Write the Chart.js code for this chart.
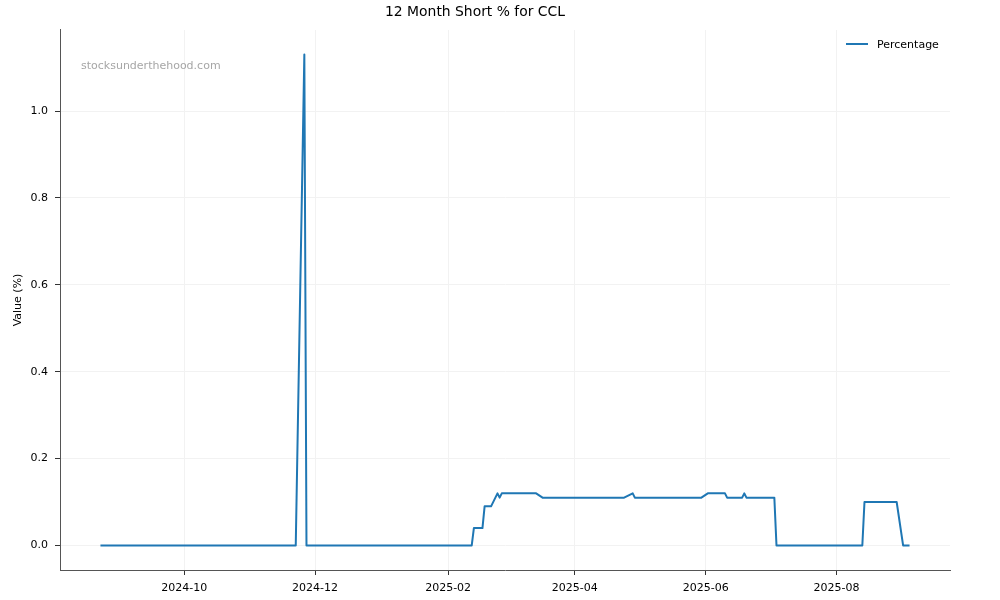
<!DOCTYPE html>
<html>
<head>
<meta charset="utf-8">
<script src="https://cdn.jsdelivr.net/npm/chart.js@4.4.1/dist/chart.umd.min.js"></script>
<style>
  html, body { margin: 0; padding: 0; background: #ffffff; }
  #wrap { width: 1000px; height: 600px; }
</style>
</head>
<body>
<div id="wrap"><canvas id="c" width="1000" height="600"></canvas></div>
<script>
// ---- data ----
const dates = ['2024-08-23','2024-11-22','2024-11-26','2024-11-27','2025-02-12','2025-02-13','2025-02-17','2025-02-18','2025-02-21','2025-02-24','2025-02-25','2025-02-26','2025-03-14','2025-03-17','2025-04-24','2025-04-28','2025-04-29','2025-05-30','2025-06-02','2025-06-10','2025-06-11','2025-06-18','2025-06-19','2025-06-20','2025-07-03','2025-07-04','2025-08-13','2025-08-14','2025-08-29','2025-09-01','2025-09-04'];
const values = [0,0,1.13,0,0,0.04,0.04,0.09,0.09,0.12,0.11,0.12,0.12,0.11,0.11,0.12,0.11,0.11,0.12,0.12,0.11,0.11,0.12,0.11,0.11,0,0,0.10,0.10,0,0];
const xTickLabels = ['2024-10','2024-12','2025-02','2025-04','2025-06','2025-08'];
const yTickValues = [0, 0.2, 0.4, 0.6, 0.8, 1.0];
const seriesName = 'Percentage';
const chartTitle = '12 Month Short % for CCL';
const yAxisTitle = 'Value (%)';
const watermark = 'stocksunderthehood.com';

// ---- helpers ----
const DAY = 86400000;
const toDay = s => Date.parse(s + 'T00:00:00Z') / DAY;
const points = dates.map((d, i) => ({ x: toDay(d), y: values[i] }));
const xTickDays = xTickLabels.map(l => toDay(l + '-01'));
const xFirst = points[0].x, xLast = points[points.length - 1].x;
const xPad = (xLast - xFirst) * 0.05;
const yMaxV = Math.max(...values), yMinV = Math.min(...values);
const yPad = (yMaxV - yMinV) * 0.05;

const FONT = 'DejaVu Sans';
const LINE_COLOR = '#1f77b4';

const overlay = {
  id: 'overlay',
  afterDraw(chart) {
    const ctx = chart.ctx;
    const ca = chart.chartArea;
    ctx.save();
    // watermark
    ctx.font = '11px "' + FONT + '"';
    ctx.fillStyle = '#a6a6a6';
    ctx.textAlign = 'left';
    ctx.textBaseline = 'middle';
    ctx.fillText(watermark, ca.left + 21, 66);
    // legend
    ctx.strokeStyle = LINE_COLOR;
    ctx.lineWidth = 2;
    ctx.beginPath();
    ctx.moveTo(846, 44);
    ctx.lineTo(868, 44);
    ctx.stroke();
    ctx.fillStyle = '#000000';
    ctx.fillText(seriesName, 877, 45);
    ctx.restore();
  }
};

new Chart(document.getElementById('c'), {
  type: 'line',
  data: {
    datasets: [{
      label: seriesName,
      data: points,
      borderColor: LINE_COLOR,
      backgroundColor: LINE_COLOR,
      borderWidth: 2,
      pointRadius: 0,
      tension: 0,
      fill: false,
      borderJoinStyle: 'round'
    }]
  },
  options: {
    responsive: false,
    animation: false,
    devicePixelRatio: 1,
    layout: { padding: { left: 0, right: 50, top: 0, bottom: 0 } },
    plugins: {
      legend: { display: false },
      tooltip: { enabled: false },
      title: {
        display: true,
        text: chartTitle,
        color: '#000000',
        font: { family: FONT, size: 13.9, weight: 'normal', lineHeight: 1.2 },
        padding: { top: 4.5, bottom: 8.8 }
      }
    },
    scales: {
      x: {
        type: 'linear',
        min: xFirst - xPad,
        max: xLast + xPad,
        afterBuildTicks: s => { s.ticks = xTickDays.map(v => ({ value: v })); },
        afterFit: s => { s.height = 30; },
        ticks: {
          autoSkip: false,
          maxRotation: 0,
          padding: 7,
          color: '#000000',
          font: { family: FONT, size: 11 },
          callback: v => { const i = xTickDays.indexOf(v); return i >= 0 ? xTickLabels[i] : ''; }
        },
        grid: { color: '#f2f2f2', lineWidth: 1, tickColor: '#333333', tickLength: 5, tickWidth: 1 },
        border: { color: '#555555', width: 1 }
      },
      y: {
        type: 'linear',
        min: yMinV - yPad,
        max: yMaxV + yPad,
        afterBuildTicks: s => { s.ticks = yTickValues.map(v => ({ value: v })); },
        afterFit: s => { s.width = 60; },
        ticks: {
          padding: 7,
          color: '#000000',
          font: { family: FONT, size: 11 },
          callback: v => Number(v).toFixed(1)
        },
        grid: { color: '#f2f2f2', lineWidth: 1, tickColor: '#333333', tickLength: 5, tickWidth: 1 },
        border: { color: '#555555', width: 1 },
        title: {
          display: true,
          text: yAxisTitle,
          color: '#000000',
          font: { family: FONT, size: 11 },
          padding: { top: 12, bottom: 0 }
        }
      }
    }
  },
  plugins: [overlay]
});
</script>
</body>
</html>
